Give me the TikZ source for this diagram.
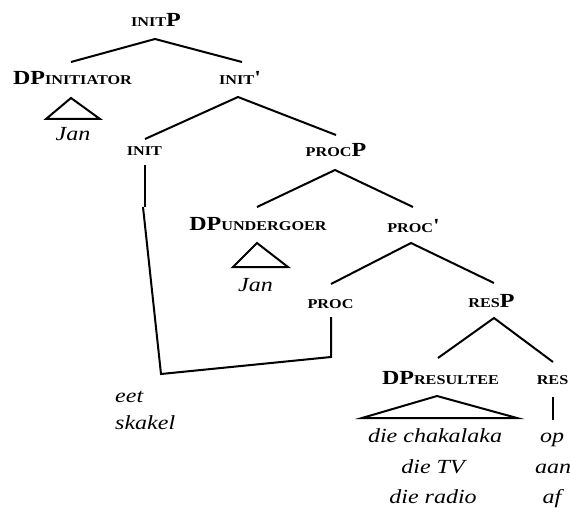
\documentclass[tikz,border=0pt]{standalone}
\usepackage{fontspec}
\setmainfont{Liberation Serif}[FakeStretch=1.2]
\newcommand\scb[1]{{\fontsize{13.5}{15}\selectfont\bfseries #1}}
\newcommand\bigb[1]{{\fontsize{20}{24}\selectfont\bfseries #1}}
\begin{document}
\begin{tikzpicture}[x=1pt,y=-1pt,
  lab/.style={anchor=base,inner sep=0pt},
  wd/.style={anchor=base,inner sep=0pt,font=\fontsize{20}{24}\selectfont\itshape},
  br/.style={line width=2pt,line join=miter}]
\useasboundingbox (0,0) rectangle (570,508);
% labels
\node[lab] (initP) at (156,27) {\scb{INIT}\bigb{P}};
\node[lab] (dpI) at (72.5,85) {\bigb{DP}\scb{INITIATOR}};
\node[lab] (initbar) at (239.5,85) {\scb{INIT}\bigb{\textquotesingle}};
\node[wd] (jan1) at (73,140) {Jan};
\node[lab] (init) at (144.5,155) {\scb{INIT}};
\node[lab] (procP) at (336,157) {\scb{PROC}\bigb{P}};
\node[lab] (dpU) at (258,230) {\bigb{DP}\scb{UNDERGOER}};
\node[lab] (procbar) at (413,232) {\scb{PROC}\bigb{\textquotesingle}};
\node[wd] (jan2) at (255.5,291) {Jan};
\node[lab] (proc) at (330.5,308) {\scb{PROC}};
\node[lab] (resP) at (491.5,307) {\scb{RES}\bigb{P}};
\node[lab] (dpR) at (440.5,384) {\bigb{DP}\scb{RESULTEE}};
\node[lab] (res) at (552.5,384) {\scb{RES}};
\node[wd] (w1) at (435,442) {die chakalaka};
\node[wd] (w2) at (433,473) {die TV};
\node[wd] (w3) at (433,503) {die radio};
\node[wd] (p1) at (552,442) {op};
\node[wd] (p2) at (553,473) {aan};
\node[wd] (p3) at (552,503) {af};
\node[wd,anchor=base west] (v1) at (115,402) {eet};
\node[wd,anchor=base west] (v2) at (115,429) {skakel};
% connection points
\coordinate (initP-d) at (155,39);
\coordinate (dpI-u) at (71,62);
\coordinate (initbar-u) at (242,62);
\coordinate (initbar-d) at (238,97);
\coordinate (init-u) at (145,139);
\coordinate (procP-u) at (336,135);
\coordinate (procP-d) at (335,170);
\coordinate (dpU-u) at (257,207);
\coordinate (procbar-u) at (413,207);
\coordinate (procbar-d) at (411,243);
\coordinate (proc-u) at (331,284);
\coordinate (resP-u) at (494,283);
\coordinate (resP-d) at (494,318);
\coordinate (dpR-u) at (438,358);
\coordinate (res-u) at (553,362);
\coordinate (res-d) at (553,397);
\coordinate (op-u) at (553,420);
\coordinate (t1a) at (71,98);
\coordinate (t1l) at (46,119);
\coordinate (t1r) at (100,119);
\coordinate (t2a) at (257,243);
\coordinate (t2l) at (233,267);
\coordinate (t2r) at (288,267);
\coordinate (t3a) at (437,396);
\coordinate (t3l) at (362,418);
\coordinate (t3r) at (517,418);
\coordinate (init-d) at (145,165);
\coordinate (init-m) at (145,207);
\coordinate (mv-a) at (143,207);
\coordinate (mv-b) at (161,374);
\coordinate (mv-c) at (331,357);
\coordinate (proc-d) at (331,317);
% branches
\draw[br] (dpI-u) -- (initP-d) -- (initbar-u);
\draw[br] (init-u) -- (initbar-d) -- (procP-u);
\draw[br] (dpU-u) -- (procP-d) -- (procbar-u);
\draw[br] (proc-u) -- (procbar-d) -- (resP-u);
\draw[br] (dpR-u) -- (resP-d) -- (res-u);
\draw[br] (res-d) -- (op-u);
\draw[br] (t1a) -- (t1l) -- (t1r) -- cycle;
\draw[br] (t2a) -- (t2l) -- (t2r) -- cycle;
\draw[br] (t3a) -- (t3l) -- (t3r) -- cycle;
\draw[br] (init-d) -- (init-m);
\draw[br] (mv-a) -- (mv-b) -- (mv-c) -- (proc-d);
\end{tikzpicture}
\end{document}
